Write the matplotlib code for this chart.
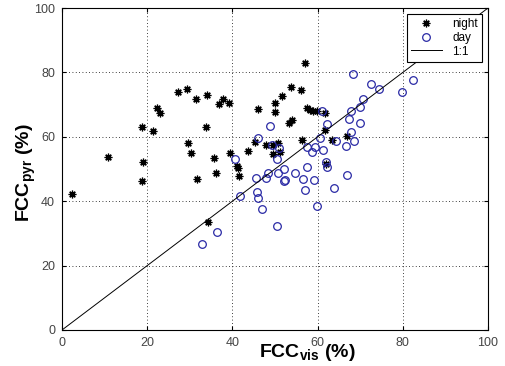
import matplotlib
matplotlib.use('Agg')
import matplotlib.pyplot as plt

# night observations (FCC_vis, FCC_pyr)
night_vis = [2.3, 10.9, 18.7, 18.9, 18.7, 21.4, 22.4, 23.0, 27.2, 29.3,
             31.5, 34.0, 33.7, 29.5, 30.2, 31.8, 37.7, 36.9, 39.3, 46.1,
             50.0, 50.0, 51.7, 53.8, 56.0, 57.6, 53.9, 53.4, 45.3, 39.4,
             43.7, 48.0, 49.5, 50.6, 56.3, 35.7, 36.2, 41.0, 41.4, 41.5,
             49.6, 51.2, 58.2, 59.0, 59.8, 61.7, 61.7, 62.0, 57.0, 63.3,
             66.8, 34.3]
night_pyr = [42.2, 53.8, 62.9, 52.1, 46.3, 61.9, 68.8, 67.3, 74.0, 74.8,
             71.9, 73.0, 62.9, 58.2, 54.9, 46.9, 71.6, 70.1, 70.4, 68.6,
             70.4, 67.8, 72.8, 75.4, 74.7, 68.8, 65.2, 64.2, 58.3, 55.1,
             55.6, 57.5, 57.5, 58.0, 59.0, 53.3, 48.9, 51.0, 50.2, 47.8,
             54.7, 55.4, 68.2, 68.1, 68.1, 67.5, 62.1, 51.6, 82.8, 59.0,
             60.2, 33.4]

# day observations (FCC_vis, FCC_pyr)
day_vis = [48.8, 46.1, 49.2, 51.0, 50.4, 40.7, 45.5, 47.8, 48.4, 50.8,
           52.2, 54.7, 52.1, 52.3, 57.4, 56.6, 57.1, 41.9, 45.7, 46.1,
           46.9, 50.4, 36.5, 32.9, 59.8, 59.2, 63.9, 66.8, 62.0, 62.1,
           58.6, 61.2, 57.4, 59.4, 60.6, 64.3, 68.5, 66.7, 67.8, 62.1,
           70.0, 67.4, 61.0, 67.8, 70.0, 70.6, 68.4, 72.5, 74.3, 79.9,
           82.3]
day_pyr = [63.4, 59.7, 57.5, 56.4, 53.1, 53.1, 47.1, 47.1, 48.7, 48.7,
           50.0, 48.9, 46.3, 46.6, 50.7, 46.8, 43.5, 41.5, 43.0, 40.9,
           37.6, 32.3, 30.3, 26.6, 38.6, 46.6, 44.0, 48.1, 52.3, 50.7,
           55.2, 55.9, 56.8, 56.8, 59.5, 58.7, 58.8, 57.1, 61.6, 64.0,
           64.2, 65.4, 68.0, 68.0, 69.4, 71.9, 79.5, 76.4, 74.8, 73.8,
           77.5]

one_to_one = [0, 100]
ticks = [0, 20, 40, 60, 80, 100]

plt.rcParams['font.family'] = ['Liberation Sans', 'DejaVu Sans']
plt.rcParams['mathtext.fontset'] = 'custom'
plt.rcParams['mathtext.bf'] = 'Liberation Sans:bold'

fig = plt.figure(figsize=(5.05, 3.66), dpi=100)
ax = fig.add_axes([0.1228, 0.0984, 0.8435, 0.8796])

# asterisk marker like matlab '*'
ax.plot(night_vis, night_pyr, marker=(8, 2, 0), color='black', markersize=5.5,
        markeredgewidth=0.9, linestyle='none', label='night')
ax.plot(day_vis, day_pyr, 'o', markerfacecolor='none', markeredgecolor='#2a2aa5',
        markersize=5.5, markeredgewidth=0.9, linestyle='none', label='day')
ax.plot(one_to_one, one_to_one, color='black', linewidth=0.7, label='1:1')

ax.set_xlim(0, 100)
ax.set_ylim(0, 100)
ax.set_xticks(ticks)
ax.set_yticks(ticks)
ax.tick_params(direction='in', length=3, labelsize=9, labelcolor='#444444',
               top=True, right=True, pad=5)
ax.grid(True, color='black', linestyle=(0, (1, 3)), linewidth=0.6)
for s in ax.spines.values():
    s.set_linewidth(0.8)

ax.set_xlabel(r'FCC$_{\mathbf{vis}}$ (%)', fontsize=14, fontweight='bold')
ax.set_ylabel(r'FCC$_{\mathbf{pyr}}$ (%)', fontsize=14, fontweight='bold')
ax.xaxis.set_label_coords(0.575, -0.07)
ax.yaxis.set_label_coords(-0.085, 0.49)
ax.xaxis.label.set_va('center')
ax.yaxis.label.set_va('center')

leg = ax.legend(loc='upper right', fontsize=8.5, fancybox=False, framealpha=1,
                edgecolor='black', borderpad=0.35, labelspacing=0.15,
                handlelength=2.6, handletextpad=0.9, borderaxespad=0.5)
leg.get_frame().set_linewidth(0.8)

fig.savefig('out.png', dpi=100)
